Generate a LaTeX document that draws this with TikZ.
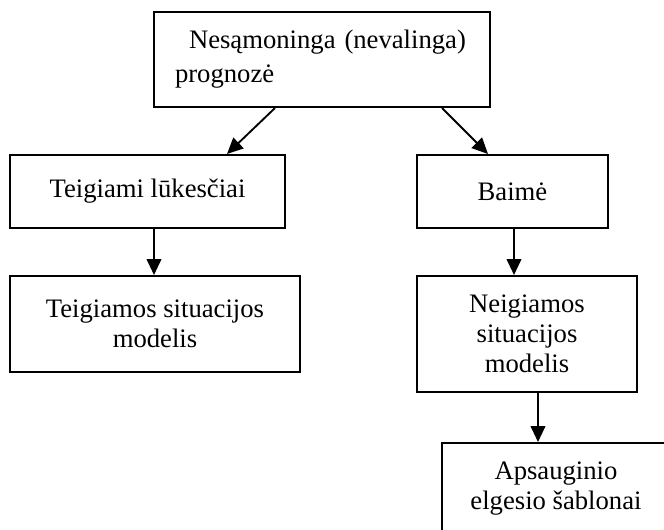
\documentclass[tikz,border=0pt]{standalone}
\usepackage{fontspec}
\setmainfont{Liberation Serif}
\usetikzlibrary{arrows.meta,calc}

\begin{document}
\begin{tikzpicture}[x=0.75pt,y=-0.75pt,
  every node/.style={font=\fontsize{20}{22.5}\selectfont},
  box/.style={draw,line width=1.5pt,inner sep=0pt,align=center},
  arr/.style={line width=1.4pt,-{Triangle[length=12pt,width=11pt]}}]
\useasboundingbox (0,0) rectangle (664,529);
\node[box,minimum width=252pt,minimum height=71.25pt,text width=220.5pt,align=left,
  font=\fontsize{20}{25.5}\selectfont] (nes) at (322,59.5)
  {\hspace*{10.5pt}Nesąmoninga (nevalinga)\\prognozė};
\node[box,minimum width=206.25pt,minimum height=54.75pt] (lk) at (147.5,191.5) {Teigiami lūkesčiai};
\node[box,minimum width=143.25pt,minimum height=54.75pt] (baime) at (512.5,191.5) {Baimė};
\node[box,minimum width=217.5pt,minimum height=72pt] (tsm) at (155,324) {Teigiamos situacijos\\modelis};
\node[box,minimum width=165pt,minimum height=87pt] (nsm) at (527,334) {Neigiamos\\situacijos\\modelis};
\node[box,minimum width=171pt,minimum height=68.25pt] (aps) at (556,488.5) {Apsauginio\\elgesio šablonai};
% connectors
\draw[arr] ($(nes.south)+(-47,0)$) -- ($(lk.north)+(79.5,0)$);
\draw[arr] ($(nes.south)+(120,0)$) -- ($(baime.north)+(-24.5,0)$);
\draw[arr] ($(lk.south)+(6.5,0)$) coordinate (a1) -- (a1 |- tsm.north);
\draw[arr] ($(baime.south)+(1.5,0)$) coordinate (a2) -- (a2 |- nsm.north);
\draw[arr] ($(nsm.south)+(11,0)$) coordinate (a3) -- (a3 |- aps.north);
\end{tikzpicture}
\end{document}
